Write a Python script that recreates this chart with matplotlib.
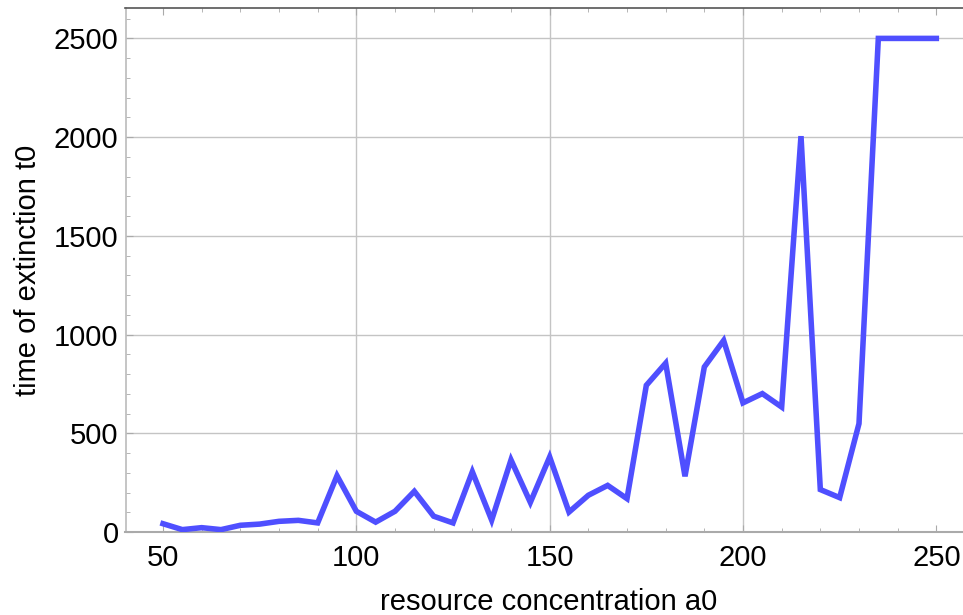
import matplotlib
matplotlib.use("Agg")
import matplotlib.pyplot as plt
from matplotlib.ticker import MultipleLocator

# data
a0 = [50, 55, 60, 65, 70, 75, 80, 85, 90, 95,
      100, 105, 110, 115, 120, 125, 130, 135, 140, 145,
      150, 155, 160, 165, 170, 175, 180, 185, 190, 195,
      200, 205, 210, 215, 220, 225, 230, 235, 240, 245, 250]
t0 = [42, 12, 22, 12, 34, 40, 54, 59, 46, 285,
      105, 50, 105, 206, 80, 46, 305, 60, 365, 150,
      380, 101, 186, 236, 169, 743, 855, 282, 836, 970,
      654, 701, 633, 2005, 215, 174, 549, 2500, 2500, 2500, 2500]
x_ticks = [50, 100, 150, 200, 250]
y_ticks = [0, 500, 1000, 1500, 2000, 2500]
x_grid = [100, 150, 200]

plt.rcParams['font.family'] = ['Liberation Sans', 'DejaVu Sans']

fig = plt.figure(figsize=(9.63, 6.15), dpi=100)
ax = fig.add_axes([125.5 / 963, 1 - 532 / 615, (963 - 125.5) / 963, (532 - 8) / 615])

ax.set_xlim(40.3, 256.9)
ax.set_ylim(0, 2654)

for gx in x_grid:
    ax.axvline(gx, color='#c4c4c4', lw=1.0, zorder=0)
for gy in y_ticks[1:]:
    ax.axhline(gy, color='#c4c4c4', lw=1.0, zorder=0)

ax.plot(a0, t0, color='#4f4fff', lw=4.0, solid_joinstyle='miter', zorder=3)

ax.set_xticks(x_ticks)
ax.set_yticks(y_ticks)
ax.xaxis.set_minor_locator(MultipleLocator(10))
ax.yaxis.set_minor_locator(MultipleLocator(100))
ax.tick_params(which='both', direction='in', top=True, bottom=True, left=True, right=False,
               colors='#aaaaaa', labelcolor='black')
ax.tick_params(which='major', length=5, width=0.8, labelsize=21)
ax.tick_params(which='minor', length=3, width=0.6)
ax.tick_params(axis='x', which='major', pad=9)
ax.tick_params(axis='y', which='major', pad=5)

ax.spines['right'].set_visible(False)
ax.spines['top'].set_color('#555555')
ax.spines['top'].set_linewidth(1.2)
ax.spines['left'].set_color('#bbbbbb')
ax.spines['left'].set_linewidth(1.2)
ax.spines['bottom'].set_color('#aaaaaa')
ax.spines['bottom'].set_linewidth(1.5)

ax.set_xlabel('resource concentration a0', fontsize=21)
ax.set_ylabel('time of extinction t0', fontsize=21)
ax.xaxis.set_label_coords((549 - 125.5) / (963 - 125.5), -(601.7 - 532) / 524)
ax.yaxis.set_label_coords(-(125.5 - 28) / 837.5, 0.5)
ax.yaxis.label.set_verticalalignment('center')
ax.xaxis.label.set_verticalalignment('center')

fig.savefig('out.png', dpi=100)
